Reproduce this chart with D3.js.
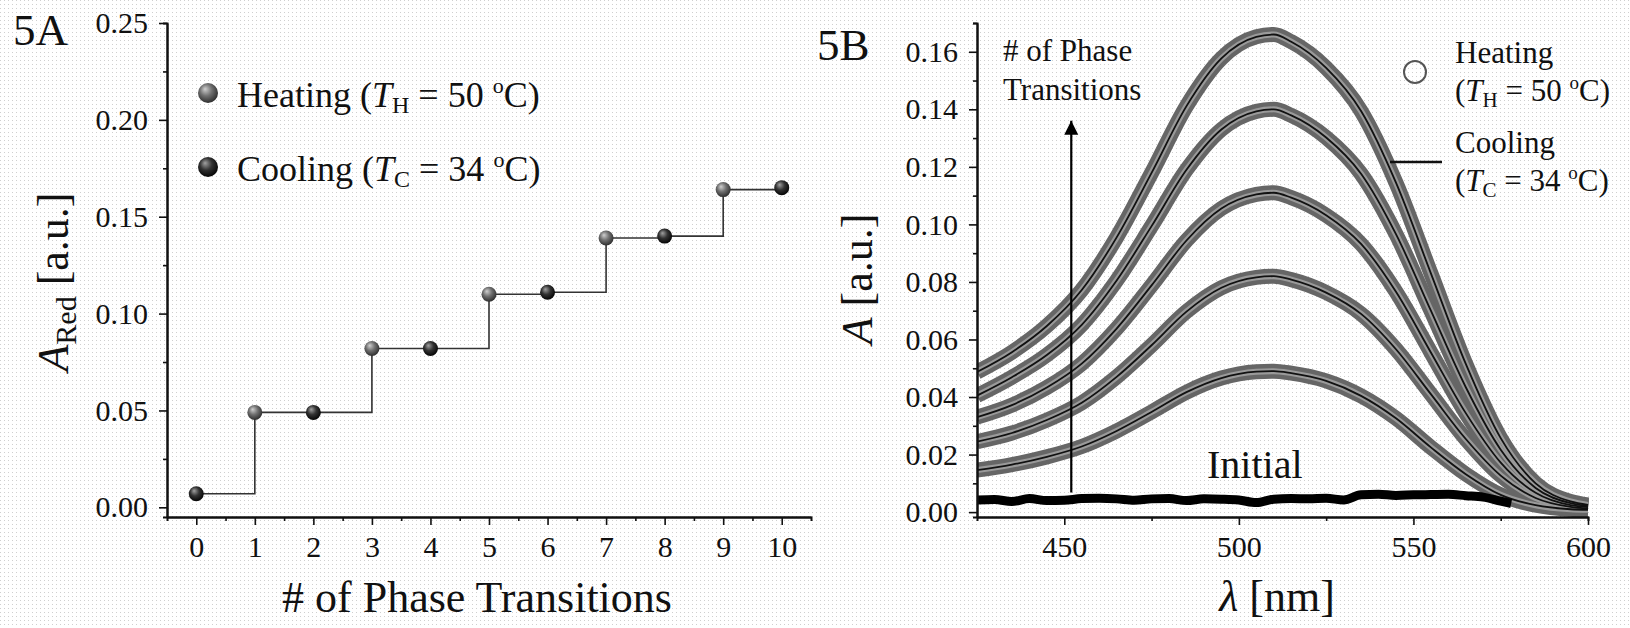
<!DOCTYPE html>
<html lang="en">
<head>
<meta charset="UTF-8">
<title>Phase transitions - absorbance</title>
<script src="https://cdn.jsdelivr.net/npm/d3@7"></script>
<style>
  body { margin: 0; background: #fff; }
  svg text { font-family: "Liberation Serif", "Times New Roman", serif; fill: #111; }
</style>
</head>
<body>
<svg id="chart" width="1630" height="628"></svg>
<script>
// ---- panel 5A data ----
const transitions = [0, 1, 2, 3, 4, 5, 6, 7, 8, 9, 10]
const aRed = [0.007, 0.049, 0.049, 0.082, 0.082, 0.110, 0.111, 0.139, 0.140, 0.164, 0.165]
const pointKind = ['cooling', 'heating', 'cooling', 'heating', 'cooling', 'heating',
                   'cooling', 'heating', 'cooling', 'heating', 'cooling']
const aXTicks = [0, 1, 2, 3, 4, 5, 6, 7, 8, 9, 10]
const aYTicks = [0, 0.05, 0.10, 0.15, 0.20, 0.25]

// ---- panel 5B data ----
const wavelengths = [425, 435, 445, 455, 465, 475, 485, 495, 505, 510, 515, 525, 535, 545, 555, 565, 575, 585, 595, 600]
const spectrum1 = [0.0146, 0.0165, 0.0192, 0.0228, 0.0282, 0.0348, 0.0417, 0.0466, 0.0488, 0.049, 0.0483, 0.0456, 0.0404, 0.0326, 0.0225, 0.0132, 0.0060, 0.0024, 0.001, 0.0008]
const spectrum2 = [0.0245, 0.0275, 0.032, 0.038, 0.047, 0.058, 0.0697, 0.078, 0.0816, 0.082, 0.0808, 0.0763, 0.0689, 0.0566, 0.041, 0.0254, 0.0127, 0.0049, 0.0018, 0.0012]
const spectrum3 = [0.033, 0.0372, 0.0433, 0.0516, 0.0638, 0.0788, 0.0944, 0.1055, 0.1104, 0.111, 0.1093, 0.1032, 0.0932, 0.0766, 0.0555, 0.0344, 0.0172, 0.0067, 0.0024, 0.0017]
const spectrum4 = [0.0405, 0.0469, 0.0546, 0.0651, 0.0805, 0.0994, 0.119, 0.133, 0.1393, 0.140, 0.1379, 0.1302, 0.1176, 0.0966, 0.070, 0.0434, 0.0217, 0.0084, 0.0031, 0.0021]
const spectrum5 = [0.0487, 0.0556, 0.0647, 0.0772, 0.0955, 0.1179, 0.1411, 0.1577, 0.1652, 0.166, 0.1635, 0.1544, 0.1394, 0.1145, 0.083, 0.0515, 0.0257, 0.010, 0.0037, 0.0025]
const initialWl = [425, 430, 435, 440, 445, 450, 455, 460, 465, 470, 475, 480, 485, 490, 495, 500, 505, 510, 515, 520, 525, 530, 535, 540, 545, 550, 555, 560, 565, 570, 575, 578]
const initialA = [0.0042, 0.0044, 0.0037, 0.0047, 0.0040, 0.0041, 0.0047, 0.0048, 0.0046, 0.0041, 0.0046, 0.0047, 0.0040, 0.0046, 0.0045, 0.0042, 0.0033, 0.0045, 0.0047, 0.0046, 0.0048, 0.0042, 0.0060, 0.0062, 0.0058, 0.0060, 0.0061, 0.0062, 0.0057, 0.0052, 0.0038, 0.0030]
const bXTicks = [450, 500, 550, 600]
const bYTicks = [0, 0.02, 0.04, 0.06, 0.08, 0.10, 0.12, 0.14, 0.16]

const serif = '"Liberation Serif", "Times New Roman", serif'
const svg = d3.select('#chart')
const defs = svg.append('defs')

// faint halftone dots of the scan
const dots = defs.append('pattern')
    .attr('id', 'dots')
    .attr('width', 4).attr('height', 4)
    .attr('patternUnits', 'userSpaceOnUse')
dots.append('rect').attr('width', 1).attr('height', 1).attr('fill', '#cfcfcf')
svg.append('rect').attr('width', 1630).attr('height', 628).attr('fill', 'url(#dots)')

function sphere(id, c0, c1, c2) {
    const g = defs.append('radialGradient').attr('id', id)
        .attr('cx', '45%').attr('cy', '40%').attr('r', '60%')
        .attr('fx', '35%').attr('fy', '30%')
    g.append('stop').attr('offset', '0%').attr('stop-color', c0)
    g.append('stop').attr('offset', '50%').attr('stop-color', c1)
    g.append('stop').attr('offset', '100%').attr('stop-color', c2)
}
sphere('heating', '#cfcfcf', '#707070', '#2e2e2e')
sphere('cooling', '#a0a0a0', '#333333', '#050505')

function styleAxis(g) {
    g.attr('font-family', serif).attr('font-size', 30)
    g.select('.domain').attr('stroke', '#111').attr('stroke-width', 2)
    g.selectAll('.tick line').attr('stroke', '#111').attr('stroke-width', 1.6)
    g.selectAll('.tick text').attr('font-size', 30).attr('fill', '#111')
}

// ================= 5A =================
const xA = d3.scaleLinear().domain([-0.5, 10.5]).range([167, 811])
const yA = d3.scaleLinear().domain([-0.005, 0.25]).range([517, 23])

const stepLine = d3.line()
    .x((d, i) => xA(transitions[i]))
    .y(d => yA(d))
    .curve(d3.curveStepAfter)

svg.append('path')
    .attr('d', stepLine(aRed))
    .attr('fill', 'none')
    .attr('stroke', '#333')
    .attr('stroke-width', 1.6)

svg.append('g').selectAll('circle')
    .data(aRed)
    .join('circle')
    .attr('cx', (d, i) => xA(transitions[i]))
    .attr('cy', d => yA(d))
    .attr('r', 7.5)
    .attr('fill', (d, i) => `url(#${pointKind[i]})`)

svg.append('g')
    .attr('transform', 'translate(0,517)')
    .call(d3.axisBottom(xA).tickValues(aXTicks.map(v => v + 0.5).slice(0, 10)).tickSize(4).tickFormat(''))
    .call(styleAxis)
svg.append('g')
    .attr('transform', 'translate(0,517)')
    .call(d3.axisBottom(xA).tickValues(aXTicks).tickSize(8).tickPadding(11).tickSizeOuter(0))
    .call(styleAxis)

svg.append('g')
    .attr('transform', 'translate(167,0)')
    .call(d3.axisLeft(yA).tickValues([0.025, 0.075, 0.125, 0.175, 0.225]).tickSize(4).tickFormat(''))
    .call(styleAxis)
svg.append('g')
    .attr('transform', 'translate(167,0)')
    .call(d3.axisLeft(yA).tickValues(aYTicks).tickSize(8).tickPadding(11).tickSizeOuter(0).tickFormat(d3.format('.2f')))
    .call(styleAxis)

// legend A
const legA = [
    { kind: 'heating', sub: 'H', temp: '50', y: 93 },
    { kind: 'cooling', sub: 'C', temp: '34', y: 167 }
]
legA.forEach(l => {
    svg.append('circle').attr('cx', 208).attr('cy', l.y).attr('r', 10).attr('fill', `url(#${l.kind})`)
    const t = svg.append('text').attr('x', 237).attr('y', l.y + 14).attr('font-size', 36)
    t.append('tspan').text(l.kind === 'heating' ? 'Heating (' : 'Cooling (')
    t.append('tspan').attr('font-style', 'italic').text('T')
    t.append('tspan').attr('font-size', 24).attr('dy', 6).text(l.sub)
    t.append('tspan').attr('dy', -6).text(` = ${l.temp} `)
    t.append('tspan').attr('font-size', 22).attr('dy', -14).text('o')
    t.append('tspan').attr('dy', 14).text('C)')
})

svg.append('text').attr('x', 13).attr('y', 45).attr('font-size', 45).text('5A')

svg.append('text')
    .attr('x', 477).attr('y', 612)
    .attr('text-anchor', 'middle').attr('font-size', 44)
    .text('# of Phase Transitions')

const yTitleA = svg.append('text')
    .attr('transform', 'translate(68,282) rotate(-90)')
    .attr('text-anchor', 'middle').attr('font-size', 44)
yTitleA.append('tspan').attr('font-style', 'italic').text('A')
yTitleA.append('tspan').attr('font-size', 30).attr('dy', 8).text('Red')
yTitleA.append('tspan').attr('dy', -8).text(' [a.u.]')

// ================= 5B =================
const xB = d3.scaleLinear().domain([425, 600]).range([977, 1588])
const yB = d3.scaleLinear().domain([-0.0017, 0.17]).range([517, 23])

defs.append('clipPath').attr('id', 'plotB')
    .append('rect').attr('x', 977).attr('y', 20).attr('width', 612).attr('height', 497)

const specLine = d3.line()
    .x((d, i) => xB(wavelengths[i]))
    .y(d => yB(d))
    .curve(d3.curveMonotoneX)

const spectra = [spectrum1, spectrum2, spectrum3, spectrum4, spectrum5]
const plotB = svg.append('g').attr('clip-path', 'url(#plotB)')

// heating: dense open circles -> wide grey band
plotB.selectAll('path.heat')
    .data(spectra)
    .join('path')
    .attr('class', 'heat')
    .attr('d', specLine)
    .attr('fill', 'none')
    .attr('stroke', '#666')
    .attr('stroke-width', 15)
plotB.selectAll('path.heatIn')
    .data(spectra)
    .join('path')
    .attr('class', 'heatIn')
    .attr('d', specLine)
    .attr('fill', 'none')
    .attr('stroke', '#9a9a9a')
    .attr('stroke-width', 6)
// cooling: thin line
plotB.selectAll('path.cool')
    .data(spectra)
    .join('path')
    .attr('class', 'cool')
    .attr('d', specLine)
    .attr('fill', 'none')
    .attr('stroke', '#111')
    .attr('stroke-width', 1.8)

const initLine = d3.line()
    .x((d, i) => xB(initialWl[i]))
    .y(d => yB(d))
    .curve(d3.curveMonotoneX)
plotB.append('path')
    .attr('d', initLine(initialA))
    .attr('fill', 'none')
    .attr('stroke', '#000')
    .attr('stroke-width', 9)
    .attr('stroke-linejoin', 'round')

// arrow
defs.append('marker')
    .attr('id', 'head')
    .attr('markerUnits', 'userSpaceOnUse')
    .attr('markerWidth', 16).attr('markerHeight', 16)
    .attr('refX', 14).attr('refY', 7)
    .attr('orient', 'auto')
    .append('path').attr('d', 'M0,0 L14,7 L0,14 Z').attr('fill', '#000')
svg.append('line')
    .attr('x1', xB(452)).attr('x2', xB(452))
    .attr('y1', yB(0.0068)).attr('y2', yB(0.136))
    .attr('stroke', '#000').attr('stroke-width', 2.2)
    .attr('marker-end', 'url(#head)')

svg.append('text').attr('x', 1003).attr('y', 61).attr('font-size', 31).text('# of Phase')
svg.append('text').attr('x', 1003).attr('y', 100).attr('font-size', 31).text('Transitions')
svg.append('text').attr('x', 1207).attr('y', 478).attr('font-size', 40).text('Initial')

svg.append('g')
    .attr('transform', 'translate(0,517)')
    .call(d3.axisBottom(xB).tickValues([475, 525, 575]).tickSize(4).tickFormat(''))
    .call(styleAxis)
svg.append('g')
    .attr('transform', 'translate(0,517)')
    .call(d3.axisBottom(xB).tickValues(bXTicks).tickSize(8).tickPadding(11).tickSizeOuter(0))
    .call(styleAxis)
svg.append('g')
    .attr('transform', 'translate(977,0)')
    .call(d3.axisLeft(yB).tickValues([0.01, 0.03, 0.05, 0.07, 0.09, 0.11, 0.13, 0.15, 0.17]).tickSize(4).tickFormat(''))
    .call(styleAxis)
svg.append('g')
    .attr('transform', 'translate(977,0)')
    .call(d3.axisLeft(yB).tickValues(bYTicks).tickSize(8).tickPadding(11).tickSizeOuter(0).tickFormat(d3.format('.2f')))
    .call(styleAxis)

// legend B
svg.append('circle').attr('cx', 1415).attr('cy', 72).attr('r', 11)
    .attr('fill', 'none').attr('stroke', '#555').attr('stroke-width', 2)
svg.append('line').attr('x1', 1390).attr('x2', 1442).attr('y1', 162).attr('y2', 162)
    .attr('stroke', '#111').attr('stroke-width', 2.5)
const legB = [
    { name: 'Heating', sub: 'H', temp: '50', y: 63 },
    { name: 'Cooling', sub: 'C', temp: '34', y: 153 }
]
legB.forEach(l => {
    svg.append('text').attr('x', 1455).attr('y', l.y).attr('font-size', 31).text(l.name)
    const t = svg.append('text').attr('x', 1455).attr('y', l.y + 38).attr('font-size', 31)
    t.append('tspan').text('(')
    t.append('tspan').attr('font-style', 'italic').text('T')
    t.append('tspan').attr('font-size', 21).attr('dy', 6).text(l.sub)
    t.append('tspan').attr('dy', -6).text(` = ${l.temp} `)
    t.append('tspan').attr('font-size', 19).attr('dy', -12).text('o')
    t.append('tspan').attr('dy', 12).text('C)')
})

svg.append('text').attr('x', 817).attr('y', 60).attr('font-size', 45).text('5B')

svg.append('text')
    .attr('x', 1277).attr('y', 611)
    .attr('text-anchor', 'middle').attr('font-size', 44)
    .html('<tspan font-style="italic">λ</tspan> [nm]')

const yTitleB = svg.append('text')
    .attr('transform', 'translate(872,279) rotate(-90)')
    .attr('text-anchor', 'middle').attr('font-size', 44)
yTitleB.append('tspan').attr('font-style', 'italic').text('A')
yTitleB.append('tspan').text(' [a.u.]')
</script>
</body>
</html>
